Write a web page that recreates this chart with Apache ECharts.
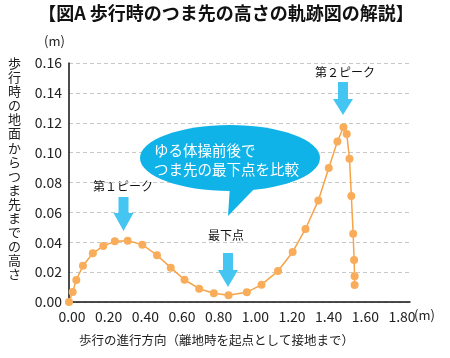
<!DOCTYPE html>
<html><head><meta charset="utf-8">
<script src="https://cdn.jsdelivr.net/npm/echarts@6/dist/echarts.min.js"></script>
<style>html,body{margin:0;padding:0;background:#fff}#c{width:450px;height:358px}</style>
</head><body><div id="c"></div>
<script>
const xValues = [0, 0.02, 0.04, 0.076, 0.13, 0.187, 0.25, 0.32, 0.40, 0.48, 0.555, 0.63, 0.71, 0.79, 0.87, 0.97, 1.05, 1.14, 1.22, 1.29, 1.36, 1.417, 1.464, 1.497, 1.515, 1.53, 1.54, 1.55, 1.555, 1.558, 1.558];
const yValues = [0, 0.0067, 0.0147, 0.0243, 0.0326, 0.0375, 0.0406, 0.041, 0.0384, 0.0313, 0.023, 0.0149, 0.0089, 0.0058, 0.0045, 0.0065, 0.0116, 0.0207, 0.0335, 0.0489, 0.068, 0.0897, 0.1075, 0.117, 0.1124, 0.0959, 0.071, 0.0457, 0.0281, 0.0172, 0.0114];
const xTicks = ['0.00','0.20','0.40','0.60','0.80','1.00','1.20','1.40','1.60','1.80'];
const yTicks = ['0.00','0.02','0.04','0.06','0.08','0.10','0.12','0.14','0.16'];
const title = '【図A 歩行時のつま先の高さの軌跡図の解説】';
const yName = '歩行時の地面からつま先までの高さ';
const xName = '歩行の進行方向（離地時を起点として接地まで）';

const FONT = '"Noto Sans CJK JP", "Noto Sans", sans-serif';
const chart = echarts.init(document.getElementById('c'));
const data = xValues.map((x, i) => [x, yValues[i]]);
const ARROW = '#45c6f2', BUBBLE = '#0fb3e8';

function arrow(cx, top, shaftBottom, tip) {
  return {
    type: 'polygon', z: 10,
    shape: { points: [[cx - 5, top], [cx + 5, top], [cx + 5, shaftBottom], [cx + 10, shaftBottom], [cx, tip], [cx - 10, shaftBottom], [cx - 5, shaftBottom]] },
    style: { fill: ARROW }
  };
}

chart.setOption({
  animation: false,
  textStyle: { fontFamily: FONT },
  grid: { left: 69, right: 40, top: 63, bottom: 56 },
  xAxis: {
    type: 'value', min: 0, max: 1.86, interval: 0.2,
    axisLine: { show: true, lineStyle: { color: '#111', width: 1.5 } },
    axisTick: { show: false },
    splitLine: { show: false },
    axisLabel: {
      color: '#222', fontSize: 14, margin: 8, showMaxLabel: false, padding: [0, 0, 0, 6],
      formatter: v => { const i = Math.round(v / 0.2); return (Math.abs(v - i * 0.2) < 1e-6 && xTicks[i]) ? xTicks[i] : ''; }
    }
  },
  yAxis: {
    type: 'value', min: 0, max: 0.16, interval: 0.02,
    axisLine: { show: true, lineStyle: { color: '#111', width: 1.5 } },
    axisTick: { show: false },
    splitLine: { show: true, lineStyle: { color: '#c8c8c8', type: [4, 3] } },
    axisLabel: {
      color: '#222', fontSize: 14, margin: 7,
      formatter: v => yTicks[Math.round(v / 0.02)] || ''
    }
  },
  series: [{
    type: 'line', data: data, smooth: false,
    symbol: 'circle', symbolSize: 8, showSymbol: true,
    lineStyle: { color: '#f7a347', width: 1.5 },
    itemStyle: { color: '#f9ad5a' },
    z: 5
  }],
  graphic: [
    { type: 'text', x: 226, y: 4, style: { text: title, font: 'bold 18px ' + FONT, fill: '#111', align: 'center' } },
    { type: 'text', x: 44, y: 35, style: { text: '(m)', font: '13px ' + FONT, fill: '#222' } },
    { type: 'text', x: 414, y: 309, style: { text: '(m)', font: '13px ' + FONT, fill: '#222' } },
    { type: 'text', x: 79, y: 334, style: { text: xName, font: '12.5px ' + FONT, fill: '#222' } },
    { type: 'text', x: 8, y: 56, style: { text: yName.split('').join('\n'), font: '13px ' + FONT, lineHeight: 14.1, fill: '#222' } },
    { type: 'text', x: 93, y: 180, style: { text: '第１ピーク', font: '12px ' + FONT, fill: '#111' } },
    { type: 'text', x: 208, y: 229, style: { text: '最下点', font: '12px ' + FONT, fill: '#111' } },
    { type: 'text', x: 315, y: 66, style: { text: '第２ピーク', font: '12px ' + FONT, fill: '#111' } },
    arrow(123.5, 197, 213, 231),
    arrow(228, 253, 270, 287),
    arrow(343, 82, 99, 115),
    { type: 'polygon', z: 9, shape: { points: [[230, 186], [257, 186], [228, 216]] }, style: { fill: BUBBLE } },
    { type: 'ellipse', z: 9, shape: { cx: 230, cy: 158, rx: 90, ry: 33 }, style: { fill: BUBBLE } },
    { type: 'text', z: 11, x: 154, y: 141, style: { text: 'ゆる体操前後で\nつま先の最下点を比較', font: '14.5px ' + FONT, lineHeight: 19, fill: '#fff' } }
  ]
});
</script></body></html>
